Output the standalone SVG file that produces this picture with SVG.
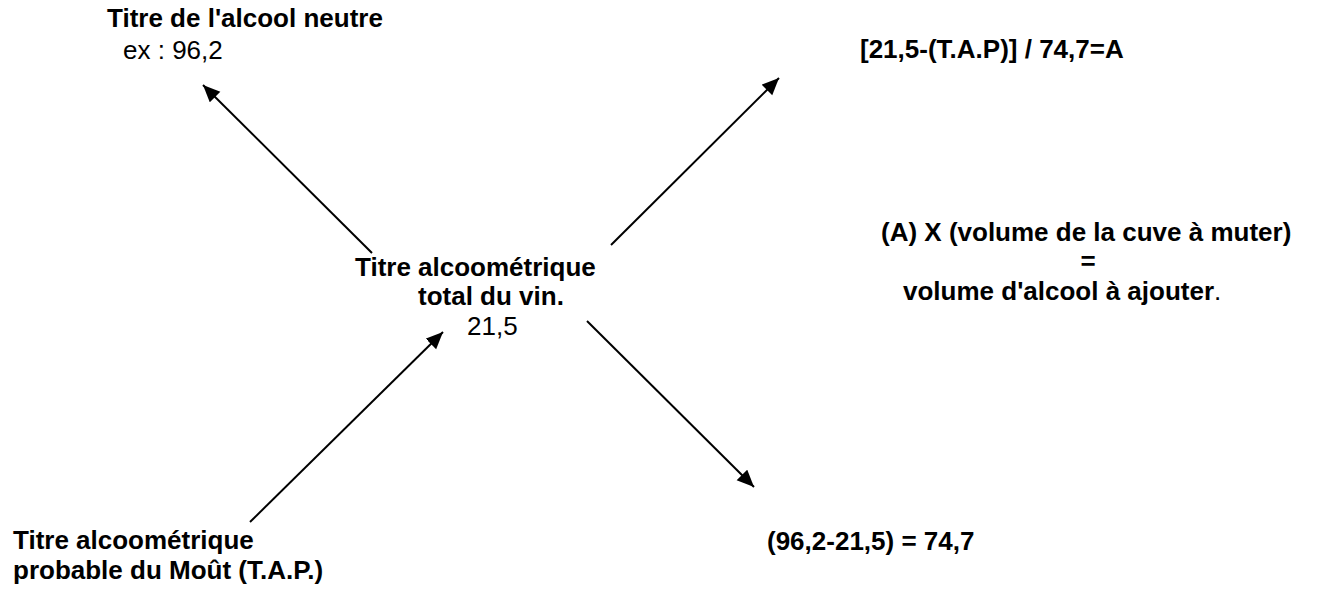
<svg xmlns="http://www.w3.org/2000/svg" width="1320" height="589" viewBox="0 0 1320 589">
  <style>
    text { font-family: "Liberation Sans", Arial, sans-serif; font-size: 26px; fill: #000; }
    .b { font-weight: bold; }
    .r { font-weight: normal; }
    .arrow { stroke: #000; stroke-width: 2; fill: none; marker-end: url(#head); }
  </style>
  <defs>
    <marker id="head" markerUnits="userSpaceOnUse" markerWidth="18" markerHeight="16" refX="17" refY="7.5" orient="auto">
      <path d="M0,0 L17,7.5 L0,15 z" fill="#000"/>
    </marker>
  </defs>

  <rect width="1320" height="589" fill="#fff"/>

  <!-- connectors -->
  <g id="connectors">
    <line class="arrow" x1="372" y1="253" x2="203" y2="85"/>
    <line class="arrow" x1="611" y1="245" x2="779" y2="78"/>
    <line class="arrow" x1="250" y1="522" x2="443" y2="332"/>
    <line class="arrow" x1="587" y1="321" x2="754" y2="487"/>
  </g>

  <!-- neutral spirit strength -->
  <g id="alcool-neutre">
    <text class="b" x="107" y="27">Titre de l'alcool neutre</text>
    <text class="r" x="123" y="59">ex : 96,2</text>
  </g>

  <!-- ratio A -->
  <g id="rapport-A">
    <text class="b" x="860" y="58">[21,5-(T.A.P)] / 74,7=A</text>
  </g>

  <!-- total wine strength -->
  <g id="titre-total">
    <text class="b" x="355" y="276">Titre alcoométrique</text>
    <text class="b" x="418" y="305">total du vin.</text>
    <text class="r" x="467" y="335">21,5</text>
  </g>

  <!-- volume to add -->
  <g id="volume-alcool">
    <text class="b" x="881" y="241">(A) X (volume de la cuve à muter)</text>
    <text class="b" x="1088" y="270" text-anchor="middle">=</text>
    <text class="b" x="903" y="300">volume d'alcool à ajouter<tspan class="r">.</tspan></text>
  </g>

  <!-- must probable strength -->
  <g id="titre-probable">
    <text class="b" x="13" y="549">Titre alcoométrique</text>
    <text class="b" x="13" y="579">probable du Moût (T.A.P.)</text>
  </g>

  <!-- difference -->
  <g id="difference">
    <text class="b" x="767" y="550">(96,2-21,5) = 74,7</text>
  </g>
</svg>
